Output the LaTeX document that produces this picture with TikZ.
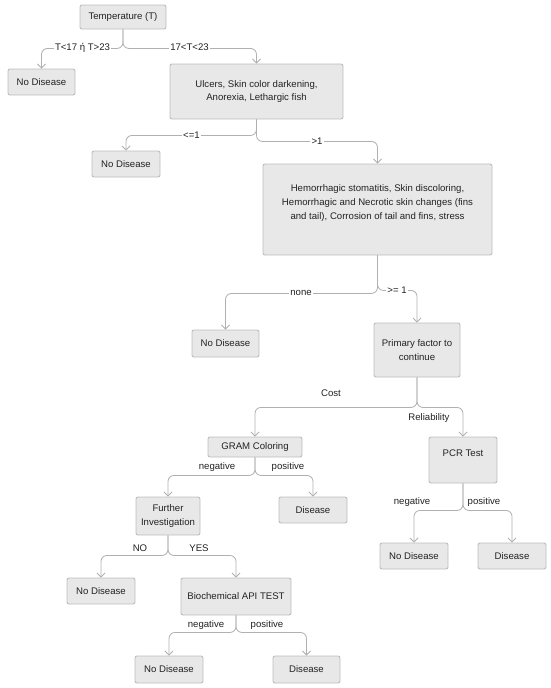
\documentclass[tikz,border=0pt]{standalone}
\usepackage{fontspec}
\setmainfont{Liberation Sans}
\usetikzlibrary{arrows.meta}
\definecolor{boxfill}{HTML}{E8E8E8}
\definecolor{boxdraw}{HTML}{BDBDBD}
\definecolor{edgecol}{HTML}{B0B0B0}
\definecolor{txt}{HTML}{222222}
\tikzset{
  box/.style={draw=boxdraw, fill=boxfill, line width=0.9pt, rounded corners=2pt, inner sep=0pt, text=txt, font=\fontsize{9.6}{13.8}\selectfont, align=center},
  boxtext/.style={inner sep=0pt, text=txt, font=\fontsize{9.6}{13.8}\selectfont, align=center},
  edge/.style={draw=edgecol, line width=0.8pt, rounded corners=6pt, -{Straight Barb[length=4pt,width=8pt]}},
  lbl/.style={fill=white, inner sep=1.5pt, text=txt, font=\fontsize{9.6}{11}\selectfont},
}
\begin{document}
\begin{tikzpicture}[x=1pt,y=-1pt]
\useasboundingbox (0,0) rectangle (550,688);
% nodes
\node[box, minimum width=86pt, minimum height=24pt] (temp) at (123,17) {Temperature (T)};
\node[box, minimum width=67pt, minimum height=26pt] (nd1) at (41.5,82) {No Disease};
\node[box, minimum width=173pt, minimum height=55pt] (ulc) at (256.5,91.5) {Ulcers, Skin color darkening,\\Anorexia, Lethargic fish};
\node[box, minimum width=68pt, minimum height=26pt] (nd2) at (126,164) {No Disease};
\node[box, minimum width=229pt, minimum height=91pt] (hem) at (377.5,209.5) {};
\node[boxtext] (hemt) at (377.5,203) {Hemorrhagic stomatitis, Skin discoloring,\\Hemorrhagic and Necrotic skin changes (fins\\and tail), Corrosion of tail and fins, stress};
\node[box, minimum width=67pt, minimum height=27pt] (nd3) at (225.5,343.5) {No Disease};
\node[box, minimum width=86pt, minimum height=54pt] (prim) at (417,350) {Primary factor to\\continue};
\node[box, minimum width=94pt, minimum height=20pt] (gram) at (255,447) {GRAM Coloring};
\node[box, minimum width=68pt, minimum height=46pt] (pcr) at (463,460) {};
\node[boxtext] (pcrt) at (463,453) {PCR Test};
\node[box, minimum width=64pt, minimum height=38pt] (fur) at (168,516) {Further\\Investigation};
\node[box, minimum width=68pt, minimum height=26pt] (dis1) at (313,510) {Disease};
\node[box, minimum width=68pt, minimum height=26pt] (ndp) at (414,556) {No Disease};
\node[box, minimum width=68pt, minimum height=26pt] (disp) at (512,556) {Disease};
\node[box, minimum width=68pt, minimum height=26pt] (nd4) at (101,591) {No Disease};
\node[box, minimum width=110pt, minimum height=37pt] (bio) at (236,596.5) {Biochemical API TEST};
\node[box, minimum width=68pt, minimum height=27pt] (nd5) at (169,669.5) {No Disease};
\node[box, minimum width=67pt, minimum height=27pt] (dis2) at (306.5,669.5) {Disease};
% edges
\draw[edge] (temp.south) -- ++(0,19) -| (nd1.north);
\draw[edge] (temp.south) -- ++(0,19) -| (ulc.north);
\draw[edge] (ulc.south) -- ++(0,16) -| (nd2.north);
\draw[edge] (ulc.south) -- ++(0,22) -| (hem.north);
\draw[edge] (hem.south) -- ++(0,38) -| (nd3.north);
\draw[edge] (hem.south) -- ++(0,35) -| (prim.north);
\draw[edge] (prim.south) -- ++(0,30) -| (gram.north);
\draw[edge] (prim.south) -- ++(0,30) -| (pcr.north);
\draw[edge] (gram.south) -- ++(0,18) -| (fur.north);
\draw[edge] (gram.south) -- ++(0,18) -| (dis1.north);
\draw[edge] (pcr.south) -- ++(0,27) -| (ndp.north);
\draw[edge] (pcr.south) -- ++(0,27) -| (disp.north);
\draw[edge] (fur.south) -- ++(0,20) -| (nd4.north);
\draw[edge] (fur.south) -- ++(0,20) -| (bio.north);
\draw[edge] (bio.south) -- ++(0,17) -| (nd5.north);
\draw[edge] (bio.south) -- ++(0,17) -| (dis2.north);
% labels
\node[lbl] (l1) at (82.5,48) {T<17 ή T>23};
\node[lbl] (l2) at (189.5,47.5) {17<T<23};
\node[lbl] (l3) at (191.5,135) {<=1};
\node[lbl] (l4) at (317,141) {>1};
\node[lbl] (l5) at (301,293) {none};
\node[lbl] (l6) at (397,290) {>= 1};
\node[lbl] (l7) at (331,393) {Cost};
\node[lbl] (l8) at (429,418) {Reliability};
\node[lbl] (l9) at (217,467) {negative};
\node[lbl] (l10) at (288,467) {positive};
\node[lbl] (l11) at (412,502) {negative};
\node[lbl] (l12) at (484,502) {positive};
\node[lbl] (l13) at (140,548) {NO};
\node[lbl] (l14) at (199,548) {YES};
\node[lbl] (l15) at (206,625) {negative};
\node[lbl] (l16) at (267,625) {positive};
\end{tikzpicture}
\end{document}
